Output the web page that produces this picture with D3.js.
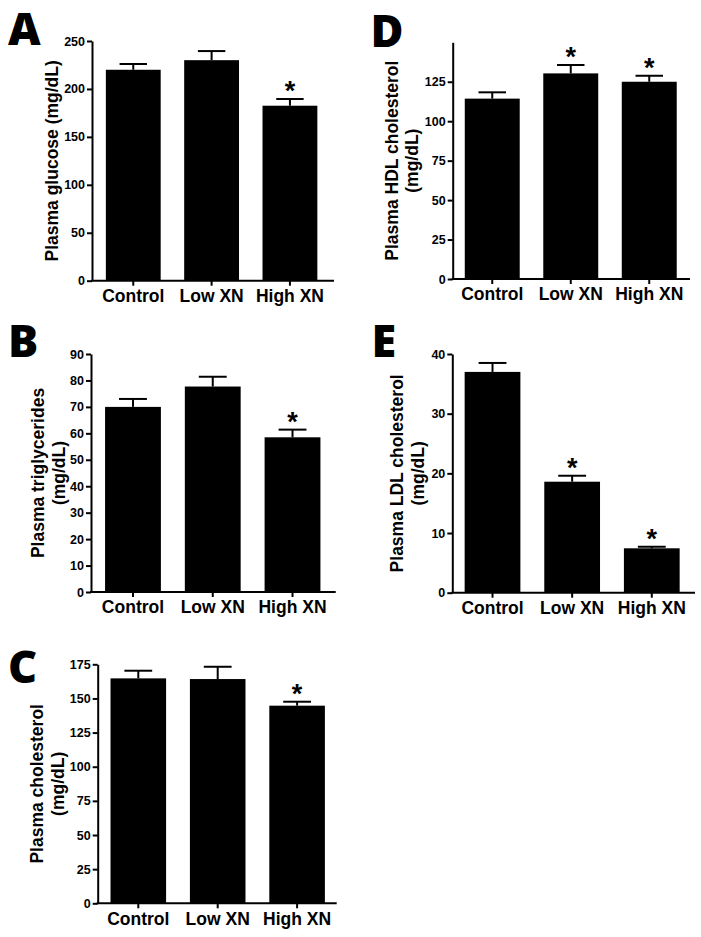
<!DOCTYPE html>
<html>
<head>
<meta charset="utf-8">
<script src="https://cdn.jsdelivr.net/npm/d3@7"></script>
<style>
  html, body { margin: 0; padding: 0; background: #fff; }
  svg { display: block; }
  .tick text { font-family: "Liberation Sans", Arial, sans-serif; font-weight: bold; fill: #000; }
</style>
</head>
<body>
<svg id="chart" width="701" height="937"></svg>
<script>
// ---------------- DATA ----------------
const categories = ["Control", "Low XN", "High XN"];

const glucoseMean = [220, 230, 182.5];
const glucoseSem  = [6, 9.5, 7];
const glucoseSig  = [false, false, true];
const glucoseTicks = [0, 50, 100, 150, 200, 250];

const triglyceridesMean = [70, 77.7, 58.5];
const triglyceridesSem  = [3, 3.7, 2.9];
const triglyceridesSig  = [false, false, true];
const triglyceridesTicks = [0, 10, 20, 30, 40, 50, 60, 70, 80, 90];

const cholesterolMean = [164.7, 164.2, 144.7];
const cholesterolSem  = [5.6, 9, 2.9];
const cholesterolSig  = [false, false, true];
const cholesterolTicks = [0, 25, 50, 75, 100, 125, 150, 175];

const hdlMean = [114.3, 130.3, 125];
const hdlSem  = [4, 5.3, 3.8];
const hdlSig  = [false, true, true];
const hdlTicks = [0, 25, 50, 75, 100, 125];

const ldlMean = [37.0, 18.6, 7.44];
const ldlSem  = [1.5, 1.0, 0.26];
const ldlSig  = [false, true, true];
const ldlTicks = [0, 10, 20, 30, 40];

// ---------------- LAYOUT ----------------
const panels = [
  { letter: "A", lx: 8, ly: 45, mean: glucoseMean, sem: glucoseSem, sig: glucoseSig, ticks: glucoseTicks, yMax: 250,
    axisX: 92, xEnd: 334, y0: 280.7, yTop: 41, band: [94.1, 329.1],
    label: ["Plasma glucose (mg/dL)"], labelX: [51.7] },
  { letter: "B", lx: 8, ly: 356.7, mean: triglyceridesMean, sem: triglyceridesSem, sig: triglyceridesSig, ticks: triglyceridesTicks, yMax: 90,
    axisX: 91, xEnd: 335.7, y0: 592, yTop: 354, band: [93.1, 332.4],
    label: ["Plasma triglycerides", "(mg/dL)"], labelX: [38.3, 59] },
  { letter: "C", lx: 8, ly: 683.3, mean: cholesterolMean, sem: cholesterolSem, sig: cholesterolSig, ticks: cholesterolTicks, yMax: 175,
    axisX: 97.7, xEnd: 336.7, y0: 903.3, yTop: 664.3, band: [98.6, 336.8],
    label: ["Plasma cholesterol", "(mg/dL)"], labelX: [37, 58] },
  { letter: "D", lx: 370.5, ly: 46.7, mean: hdlMean, sem: hdlSem, sig: hdlSig, ticks: hdlTicks, yMax: 150,
    axisX: 452.7, xEnd: 690, y0: 279, yTop: 42.3, band: [453, 688.5],
    label: ["Plasma HDL cholesterol", "(mg/dL)"], labelX: [392.3, 412.3] },
  { letter: "E", lx: 371.5, ly: 356.7, mean: ldlMean, sem: ldlSem, sig: ldlSig, ticks: ldlTicks, yMax: 40,
    axisX: 452.3, xEnd: 695, y0: 592.7, yTop: 354, band: [452.7, 691.6],
    label: ["Plasma LDL cholesterol", "(mg/dL)"], labelX: [397.3, 418.3] }
];

const svg = d3.select("#chart");
svg.append("rect").attr("width", 701).attr("height", 937).attr("fill", "#fff");

panels.forEach(p => {
  const g = svg.append("g");
  const x = d3.scaleBand().domain(categories).range(p.band).paddingInner(0.3).paddingOuter(0.15);
  const y = d3.scaleLinear().domain([0, p.yMax]).range([p.y0, p.yTop]);
  const rows = categories.map((c, i) => ({ c, m: p.mean[i], s: p.sem[i], sig: p.sig[i] }));

  // bars
  g.selectAll("rect.bar").data(rows).join("rect").attr("class", "bar")
    .attr("x", d => x(d.c)).attr("width", x.bandwidth())
    .attr("y", d => y(d.m)).attr("height", d => y(0) - y(d.m))
    .attr("fill", "#000");

  // error bars (upper)
  const cx = d => x(d.c) + x.bandwidth() / 2;
  g.selectAll("line.err").data(rows).join("line").attr("class", "err")
    .attr("x1", cx).attr("x2", cx)
    .attr("y1", d => y(d.m)).attr("y2", d => y(d.m + d.s))
    .attr("stroke", "#000").attr("stroke-width", 2);
  g.selectAll("line.cap").data(rows).join("line").attr("class", "cap")
    .attr("x1", d => cx(d) - x.bandwidth() / 4).attr("x2", d => cx(d) + x.bandwidth() / 4)
    .attr("y1", d => y(d.m + d.s)).attr("y2", d => y(d.m + d.s))
    .attr("stroke", "#000").attr("stroke-width", 2);

  // significance asterisks
  g.selectAll("text.star").data(rows.filter(d => d.sig)).join("text").attr("class", "star")
    .attr("x", cx).attr("y", d => y(d.m + d.s) + 1)
    .attr("text-anchor", "middle")
    .attr("font-family", "Liberation Sans, Arial, sans-serif")
    .attr("font-weight", "bold").attr("font-size", 27)
    .text("*");

  // y axis
  const ya = g.append("g").attr("transform", `translate(${p.axisX},0)`)
    .call(d3.axisLeft(y).tickValues(p.ticks).tickFormat(d3.format("d")).tickSize(5).tickPadding(2).tickSizeOuter(0));
  ya.selectAll("path, line").attr("stroke", "#000").attr("stroke-width", 2);
  ya.selectAll("text").attr("font-size", 12.5);

  // x axis
  const xa = g.append("g").attr("transform", `translate(0,${p.y0})`)
    .call(d3.axisBottom(x).tickSize(5).tickPadding(4));
  xa.select(".domain").remove();
  xa.selectAll("line").attr("stroke", "#000").attr("stroke-width", 2);
  xa.selectAll("text").attr("font-size", 17.5);
  g.append("line").attr("x1", p.axisX - 1).attr("x2", p.xEnd)
    .attr("y1", p.y0).attr("y2", p.y0).attr("stroke", "#000").attr("stroke-width", 2);

  // y label
  const cy = (p.y0 + p.yTop) / 2;
  p.label.forEach((t, i) => {
    g.append("text")
      .attr("transform", `translate(${p.labelX[i]},${cy}) rotate(-90)`)
      .attr("dy", "0.35em")
      .attr("text-anchor", "middle")
      .attr("font-family", "Liberation Sans, Arial, sans-serif")
      .attr("font-weight", "bold").attr("font-size", 17.5)
      .text(t);
  });

  // panel letter
  g.append("text").attr("x", p.lx).attr("y", p.ly)
    .attr("font-family", "Open Sans, Noto Sans, sans-serif")
    .attr("font-weight", 800).attr("font-size", 45)
    .text(p.letter);
});
</script>
</body>
</html>
